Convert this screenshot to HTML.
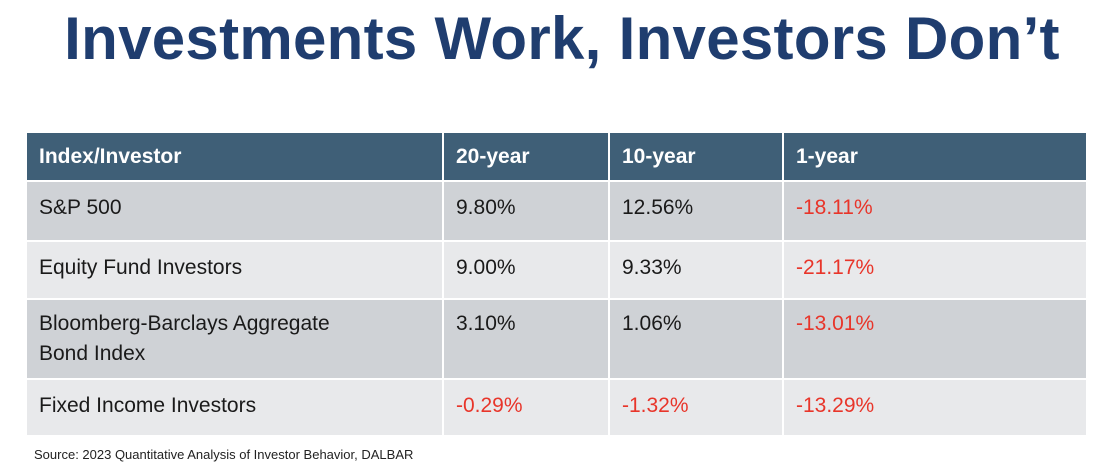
<!DOCTYPE html>
<html><head><meta charset="utf-8"><style>
body{margin:0;width:1101px;height:474px;background:#fff;position:relative;overflow:hidden;font-family:"Liberation Sans",Arial,sans-serif}
h1{position:absolute;left:0;top:4px;width:1124px;margin:0;text-align:center;font-size:60px;font-weight:bold;color:#1f3d6f;line-height:70px;letter-spacing:0.3px}
table{position:absolute;left:25px;top:133px;border-collapse:collapse;width:1061px;table-layout:fixed}
td,th{border:2px solid #fff;text-align:left;vertical-align:top;font-size:21px;line-height:30px;padding:11px 0 0 12px;color:#1a1a1a;font-weight:normal}
th{background:#3f5f77;color:#fff;font-weight:bold;height:38px;padding-top:9px;border-top:0}
tr.a td{background:#cfd2d6}
tr.b td{background:#e8e9eb}
.neg{color:#e8352a}
.src{position:absolute;left:34px;top:447px;font-size:13px;color:#222}
</style></head><body>
<h1>Investments Work, Investors Don’t</h1>
<table>
<colgroup><col style="width:417px"><col style="width:166px"><col style="width:174px"><col style="width:304px"></colgroup>
<tr><th>Index/Investor</th><th>20-year</th><th>10-year</th><th>1-year</th></tr>
<tr class="a" style="height:60px"><td>S&amp;P 500</td><td>9.80%</td><td>12.56%</td><td class="neg">-18.11%</td></tr>
<tr class="b" style="height:58px"><td>Equity Fund Investors</td><td>9.00%</td><td>9.33%</td><td class="neg">-21.17%</td></tr>
<tr class="a" style="height:80px"><td style="padding-top:9px">Bloomberg-Barclays Aggregate<br>Bond Index</td><td style="padding-top:9px">3.10%</td><td style="padding-top:9px">1.06%</td><td class="neg" style="padding-top:9px">-13.01%</td></tr>
<tr class="b" style="height:57px"><td>Fixed Income Investors</td><td class="neg">-0.29%</td><td class="neg">-1.32%</td><td class="neg">-13.29%</td></tr>
</table>
<div class="src">Source: 2023 Quantitative Analysis of Investor Behavior, DALBAR</div>
</body></html>
